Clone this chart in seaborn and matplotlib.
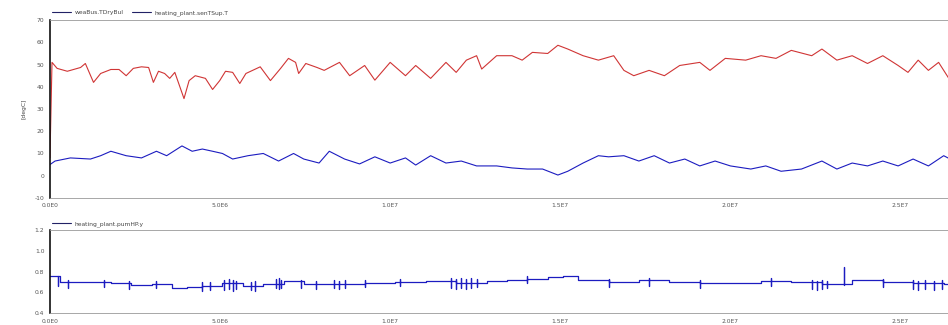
import numpy as np
import pandas as pd
import matplotlib
matplotlib.use("Agg")
import matplotlib.pyplot as plt
import seaborn as sns

# ---- data (time in 1e6 s) ----
outdoor_time = [0.0, 0.15, 0.6, 1.19, 1.49, 1.79, 2.24, 2.69, 3.13, 3.43, 3.88, 4.18, 4.48, 4.78,
                5.07, 5.37, 5.82, 6.27, 6.72, 7.16, 7.46, 7.91, 8.21, 8.66, 9.1, 9.55, 10.0, 10.45,
                10.75, 11.19, 11.64, 12.09, 12.54, 13.13, 13.58, 14.03, 14.48, 14.93, 15.22, 15.67,
                16.12, 16.42, 16.87, 17.31, 17.76, 18.21, 18.66, 19.10, 19.55, 20.0, 20.6, 21.04,
                21.49, 22.09, 22.69, 23.13, 23.58, 24.03, 24.48, 24.93, 25.37, 25.82, 26.27, 26.57]
outdoor_degC = [5.0, 6.6, 8.0, 7.5, 9.0, 11.0, 9.0, 8.0, 11.0, 9.0, 13.4, 11.0, 12.0, 11.0,
                10.0, 7.5, 9.0, 10.0, 6.6, 10.0, 7.5, 5.7, 11.0, 7.5, 5.3, 8.5, 5.7, 8.0,
                4.8, 9.0, 5.7, 6.6, 4.4, 4.4, 3.5, 3.0, 3.0, 0.3, 2.0, 5.7,
                9.0, 8.5, 9.0, 6.6, 9.0, 5.7, 7.5, 4.4, 6.6, 4.4, 3.0, 4.4,
                2.0, 3.0, 6.6, 3.0, 5.7, 4.4, 6.6, 4.4, 7.5, 4.4, 9.0, 6.6]

supply_time = [0.0, 0.06, 0.21, 0.51, 0.9, 1.04, 1.28, 1.49, 1.79, 2.03, 2.24, 2.45, 2.69, 2.9,
               3.04, 3.19, 3.37, 3.52, 3.67, 3.94, 4.09, 4.27, 4.57, 4.78, 4.99, 5.16, 5.37, 5.58,
               5.76, 6.18, 6.48, 6.78, 7.01, 7.22, 7.31, 7.52, 7.85, 8.06, 8.51, 8.81, 9.25, 9.55,
               10.0, 10.45, 10.75, 11.19, 11.64, 11.94, 12.24, 12.54, 12.69, 13.13, 13.58, 13.88,
               14.18, 14.63, 14.93, 15.22, 15.67, 16.12, 16.57, 16.87, 17.16, 17.61, 18.06, 18.51,
               19.10, 19.40, 19.85, 20.45, 20.90, 21.34, 21.79, 22.39, 22.69, 23.13, 23.58, 24.03,
               24.48, 24.93, 25.22, 25.52, 25.82, 26.12, 26.42, 26.72]
supply_degC = [8.0, 51.0, 48.3, 47.0, 48.7, 50.5, 42.0, 46.0, 47.8, 47.8, 45.0, 48.3, 49.0, 48.7,
               42.0, 47.0, 46.0, 43.8, 46.5, 34.7, 42.8, 45.0, 43.8, 38.8, 42.8, 47.0, 46.5, 41.5,
               46.0, 49.0, 42.8, 48.3, 52.8, 51.0, 46.0, 50.5, 48.7, 47.4, 51.0, 45.0, 49.6, 43.0,
               51.0, 45.0, 49.6, 43.8, 51.0, 46.5, 52.0, 54.0, 48.0, 54.0, 54.0, 52.0,
               55.5, 55.0, 58.7, 57.0, 54.0, 52.0, 54.0, 47.4, 45.0, 47.4, 45.0, 49.6,
               51.0, 47.4, 52.8, 52.0, 54.0, 52.8, 56.4, 54.0, 57.0, 52.0, 54.0, 50.5,
               54.0, 49.6, 46.5, 52.0, 47.4, 51.0, 43.8, 51.0]

pump_time = [0.0, 0.3, 1.19, 1.79, 2.39, 2.99, 3.58, 4.03, 4.48, 5.07, 5.67, 6.27, 6.87, 7.46,
             8.36, 9.25, 10.15, 11.04, 11.94, 12.84, 13.43, 14.03, 14.63, 15.07, 15.52, 16.42,
             17.31, 18.21, 19.10, 20.0, 20.9, 21.79, 22.69, 23.58, 24.48, 25.37, 26.27, 26.72]
pump_y = [0.76, 0.70, 0.70, 0.69, 0.67, 0.68, 0.64, 0.65, 0.66, 0.69, 0.66, 0.68, 0.71, 0.68,
          0.68, 0.69, 0.70, 0.71, 0.69, 0.71, 0.72, 0.73, 0.75, 0.76, 0.72, 0.70,
          0.72, 0.70, 0.69, 0.69, 0.71, 0.70, 0.68, 0.72, 0.70, 0.69, 0.68, 0.70]

# short switching bursts of the pump signal
burst_time = [0.24, 0.54, 1.58, 2.33, 3.13, 4.48, 4.69, 5.13, 5.25, 5.37, 5.46, 5.91, 6.03, 6.63,
              6.72, 6.78, 7.37, 7.82, 8.36, 8.51, 8.66, 9.25, 10.3, 11.79, 11.94, 12.09, 12.24,
              12.39, 12.54, 14.03, 16.42, 17.61, 19.10, 21.19, 22.39, 22.54, 22.69, 22.84, 23.34,
              24.48, 25.37, 25.52, 25.73, 25.97, 26.21, 26.42]
burst_high = [0.72, 0.72, 0.72, 0.71, 0.71, 0.70, 0.70, 0.72, 0.73, 0.72, 0.71, 0.70, 0.71, 0.73,
              0.74, 0.72, 0.72, 0.71, 0.72, 0.71, 0.72, 0.72, 0.73, 0.74, 0.73, 0.74, 0.73,
              0.74, 0.73, 0.76, 0.73, 0.74, 0.72, 0.74, 0.72, 0.71, 0.72, 0.71, 0.84,
              0.73, 0.72, 0.71, 0.72, 0.71, 0.72, 0.71]
burst_low = [0.66, 0.64, 0.65, 0.63, 0.64, 0.61, 0.62, 0.62, 0.63, 0.61, 0.63, 0.62, 0.61, 0.64,
             0.63, 0.64, 0.64, 0.63, 0.64, 0.63, 0.64, 0.65, 0.66, 0.64, 0.63, 0.64, 0.63,
             0.64, 0.65, 0.69, 0.65, 0.66, 0.64, 0.66, 0.63, 0.62, 0.63, 0.64, 0.67,
             0.65, 0.63, 0.62, 0.63, 0.62, 0.63, 0.64]

x_ticks = [0.0, 5.0, 10.0, 15.0, 20.0, 25.0]
x_ticklabels = ["0.0E0", "5.0E6", "1.0E7", "1.5E7", "2.0E7", "2.5E7"]
top_yticks = [-10, 0, 10, 20, 30, 40, 50, 60, 70]
bottom_yticks = [0.4, 0.6, 0.8, 1.0, 1.2]

SCALE = 1e6

# ---- assemble frames ----
temps = pd.concat([
    pd.DataFrame({"time": np.array(outdoor_time) * SCALE, "value": outdoor_degC,
                  "series": "weaBus.TDryBul"}),
    pd.DataFrame({"time": np.array(supply_time) * SCALE, "value": supply_degC,
                  "series": "heating_plant.senTSup.T"}),
], ignore_index=True)

pt = np.array(pump_time)
pv = np.array(pump_y)
rows = [pd.DataFrame({"time": pt, "value": pv, "order": 0})]
held = pv[np.searchsorted(pt, burst_time, side="right") - 1]
bt = np.array(burst_time)
for k, vals in enumerate([held, burst_high, burst_low, held]):
    rows.append(pd.DataFrame({"time": bt, "value": vals, "order": k + 1}))
pump = pd.concat(rows, ignore_index=True).sort_values(["time", "order"], kind="stable")
pump["time"] = pump["time"] * SCALE
pump["series"] = "heating_plant.pumHP.y"

# ---- figure ----
sns.set_style("white")
plt.rcParams["font.family"] = ["DejaVu Sans"]
fig = plt.figure(figsize=(9.48, 3.25), dpi=100)
ax1 = fig.add_axes([0.0527, 0.391, 0.96, 0.547])
ax2 = fig.add_axes([0.0527, 0.037, 0.96, 0.255])

tick_color = "#555555"
fs = 4.3

sns.lineplot(data=temps, x="time", y="value", hue="series",
             palette={"weaBus.TDryBul": "#1c1cc0", "heating_plant.senTSup.T": "#d03535"},
             estimator=None, sort=False, linewidth=0.8, ax=ax1)
sns.lineplot(data=pump, x="time", y="value", hue="series",
             palette={"heating_plant.pumHP.y": "#1c1cc0"},
             estimator=None, sort=False, linewidth=0.9, drawstyle="steps-post", ax=ax2)

xmax = 26.75 * SCALE
for ax, yt, ylim in [(ax1, top_yticks, (-10, 70)), (ax2, bottom_yticks, (0.4, 1.2))]:
    ax.set_xlim(0, xmax)
    ax.set_ylim(*ylim)
    ax.set_yticks(yt)
    ax.set_yticklabels([f"{v:g}" if isinstance(v, int) else f"{v:.1f}" for v in yt])
    ax.set_xticks(np.array(x_ticks) * SCALE)
    ax.set_xticklabels(x_ticklabels)
    ax.set_xticks(np.arange(0, 27) * SCALE, minor=True)
    ax.tick_params(axis="both", which="major", labelsize=fs, colors=tick_color,
                   length=2.5, width=0.6, pad=1.5, direction="out")
    ax.tick_params(axis="x", which="minor", length=1.5, width=0.6, color=tick_color,
                   direction="out")
    ax.tick_params(axis="y", which="major", color="#222222")
    ax.set_xlabel("")
    ax.set_ylabel("")
    ax.spines["left"].set_color("#111111")
    ax.spines["left"].set_linewidth(1.2)
    for s in ("top", "bottom"):
        ax.spines[s].set_color("#999999")
        ax.spines[s].set_linewidth(0.6)
    ax.spines["right"].set_visible(False)
    ax.grid(False)
    leg = ax.legend(loc="lower left", bbox_to_anchor=(0.0, 1.015), ncol=2, frameon=False,
                    fontsize=fs, handlelength=3.2, handletextpad=0.6, columnspacing=1.4,
                    borderaxespad=0.2, borderpad=0.1)
    for txt in leg.get_texts():
        txt.set_color("#444444")
    for h in leg.get_lines():
        h.set_linewidth(0.8)
        h.set_color("#222266")

ax1.set_ylabel("[degC]", fontsize=fs, color="#444444", labelpad=6)

fig.savefig("out.png", dpi=100, facecolor="white")
